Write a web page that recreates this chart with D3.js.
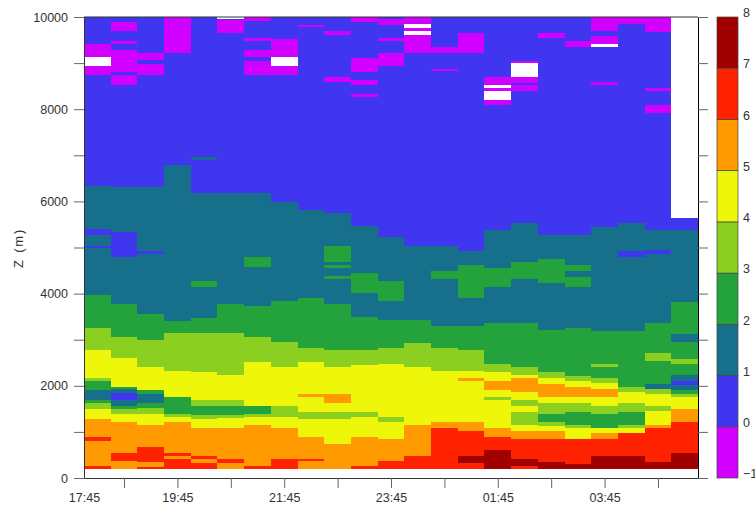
<!DOCTYPE html>
<html>
<head>
<meta charset="utf-8">
<script src="https://cdn.jsdelivr.net/npm/d3@7"></script>
<style>
  body { margin: 0; background: #fff; }
  text { font-family: "Liberation Sans", Arial, sans-serif; font-size: 12.5px; fill: #333; }
</style>
</head>
<body>
<div id="chart"></div>
<script>
// Colour classes (lower bound of each class, -1 .. 7)
const levels = [-1, 0, 1, 2, 3, 4, 5, 6, 7, 8];
const levelColors = ["#d200ff", "#4136f0", "#16708c", "#24a33c", "#8bd020", "#eef70a", "#ff9a00", "#ff2200", "#a00000"];

// X axis, hours from the start of the record (one column = half an hour)
const columnHours = 0.5;
const xTicks = [0, 0.75, 1.75, 2.75, 3.75, 4.75, 5.75, 6.75, 7.75, 8.75, 9.75, 10.75];
const xLabels = ["17:45", "", "19:45", "", "21:45", "", "23:45", "", "01:45", "", "03:45", ""];
const yTicks = [0, 1000, 2000, 3000, 4000, 5000, 6000, 7000, 8000, 9000, 10000];

// One profile per column, read from the top (10000 m) down: [class, lower edge in m]
const profiles = [
  [[0,6341],[1,3962],[2,3247],[3,2777],[4,2177],[3,2112],[2,1910],[1,1693],[2,1635],[3,1505],[4,1280],[5,897],[6,803],[5,261],[6,200]],
  [[0,6305],[1,3775],[2,3052],[3,2596],[4,1982],[2,1924],[1,1837],[0,1693],[1,1563],[2,1505],[3,1389],[4,1208],[5,550],[6,370],[5,200]],
  [[0,6305],[1,3550],[2,3000],[3,2401],[4,1910],[2,1815],[1,1635],[2,1512],[3,1389],[4,1150],[5,666],[6,355],[5,247],[6,200]],
  [[0,6790],[1,3413],[2,3138],[3,2329],[4,1750],[2,1389],[3,1317],[4,1208],[5,550],[6,485],[5,413],[6,200]],
  [[0,6175],[1,3478],[2,3138],[3,2293],[4,1693],[3,1570],[2,1367],[3,1280],[4,1085],[5,485],[6,413],[5,319],[6,200]],
  [[0,6175],[1,3775],[2,3138],[3,2235],[4,1693],[3,1570],[2,1367],[3,1295],[4,1085],[5,413],[6,319],[5,200]],
  [[0,6175],[1,3738],[2,3066],[3,2510],[4,1570],[2,1389],[3,1317],[4,1150],[5,261],[6,200]],
  [[0,5994],[1,3840],[2,2943],[3,2401],[4,1570],[3,1317],[4,1085],[5,413],[6,200]],
  [[0,5813],[1,3897],[2,2813],[3,2524],[4,1815],[5,1750],[4,1440],[3,1280],[4,897],[5,413],[6,362],[5,200]],
  [[0,5756],[1,3775],[2,2777],[3,2401],[4,1815],[5,1635],[4,1440],[3,1280],[4,738],[5,200]],
  [[0,5466],[1,3485],[2,2777],[3,2452],[4,1440],[3,1317],[4,897],[5,261],[6,200]],
  [[0,5220],[1,3428],[2,2814],[3,2473],[4,1317],[3,1215],[4,840],[5,362],[6,200]],
  [[0,5040],[1,3428],[2,2937],[3,2416],[4,1150],[5,485],[6,200]],
  [[0,5040],[1,3305],[2,2814],[3,2329],[4,1208],[5,1092],[6,200]],
  [[0,4932],[1,3305],[2,2778],[3,2329],[4,2177],[5,2112],[4,1208],[5,1027],[6,485],[7,319],[6,200]],
  [[0,5380],[1,3356],[2,2466],[3,2307],[4,2112],[5,1910],[4,1765],[3,1693],[4,1092],[5,897],[6,608],[7,200]],
  [[0,5525],[1,3356],[2,2401],[3,2235],[4,2177],[5,1873],[4,1693],[3,1570],[4,1440],[3,1150],[4,1027],[5,840],[6,406],[7,261],[6,200]],
  [[0,5272],[1,3211],[2,2293],[3,2177],[4,2040],[5,1765],[4,1620],[3,1389],[2,1208],[3,1136],[4,1027],[5,840],[6,355],[7,200]],
  [[0,5272],[1,3247],[2,2220],[3,2112],[4,1982],[5,1750],[4,1620],[3,1440],[2,1150],[3,1092],[4,840],[6,305],[7,200]],
  [[0,5438],[1,3197],[2,2163],[3,2054],[4,1924],[5,1750],[4,1563],[3,1389],[2,1092],[4,970],[5,840],[6,485],[7,200]],
  [[0,5525],[1,3197],[2,1982],[3,1873],[4,1620],[3,1440],[2,1150],[3,1092],[4,970],[6,485],[7,200]],
  [[0,5380],[1,3356],[2,2705],[3,2546],[2,2040],[1,1924],[3,1823],[4,1563],[3,1454],[4,1150],[5,1092],[6,355],[7,200]],
  [[null,5650],[0,5380],[1,3826],[2,3117],[1,2944],[2,2582],[3,2473],[2,2235],[1,2110],[0,2010],[1,1910],[2,1823],[3,1750],[4,1497],[5,1208],[6,550],[7,200]]
];

// Isolated patches on top of the profiles: [column, lower m, upper m, class] (null = no data)
const patches = [
  [0,9140,9415,-1],[0,8937,9125,null],[0,8750,8937,-1],[0,5271,5394,0],[0,4996,5040,0],
  [1,9704,9885,-1],[1,9422,9472,-1],[1,8800,9284,-1],[1,8525,8742,-1],[1,4787,5329,0],
  [2,9068,9226,-1],[2,8750,8981,-1],[2,4852,4931,0],
  [3,9226,10000,-1],
  [4,6900,6960,1],[4,4136,4273,2],
  [5,9964,10000,null],[5,9660,9935,-1],
  [6,9906,10000,-1],[6,9487,9545,-1],[6,9125,9284,-1],[6,8750,9053,-1],[6,4570,4787,2],
  [7,9125,9530,-1],[7,8937,9125,null],[7,8750,8937,-1],
  [8,9776,9834,-1],
  [9,9610,9704,-1],[9,8583,8692,-1],[9,4693,5033,2],[9,4563,4620,2],[9,4324,4375,2],
  [10,9899,10000,-1],[10,8815,9111,-1],[10,8518,8634,-1],[10,8272,8337,-1],[10,4020,4440,2],
  [11,9834,9964,-1],[11,9480,9537,-1],[11,8937,9212,-1],[11,3840,4274,2],
  [12,9841,10000,-1],[12,9762,9841,null],[12,9704,9762,-1],[12,9603,9704,null],[12,9226,9603,-1],
  [13,9212,9357,-1],[13,8822,8872,-1],[13,4317,4498,2],
  [14,9226,9660,-1],[14,3898,4621,2],
  [15,8525,8692,-1],[15,8453,8525,null],[15,8395,8453,-1],[15,8207,8395,null],[15,8099,8207,-1],[15,4151,4549,2],
  [16,9002,9053,-1],[16,8699,9002,null],[16,8569,8699,-1],[16,8395,8518,-1],[16,4310,4679,2],
  [17,9537,9660,-1],[17,4223,4744,2],
  [18,9357,9472,-1],[18,4498,4621,2],[18,4151,4368,2],
  [19,9697,10000,-1],[19,9415,9595,-1],[19,9350,9415,null],[19,8518,8583,-1],[19,2416,2466,3],
  [20,9841,10000,-1],[20,4795,4925,0],
  [21,9668,10000,-1],[21,8395,8460,-1],[21,7911,8099,-1],[21,4860,4946,0]
];

const width = 755;
const height = 506;
const plot = { left: 84, right: 698, top: 17, bottom: 478 };
const bar = { left: 717, right: 738 };

const svg = d3.select("#chart")
  .append("svg")
  .attr("width", width)
  .attr("height", height);

const xScale = d3.scaleLinear()
  .domain([0, profiles.length * columnHours])
  .range([plot.left, plot.right]);

const yScale = d3.scaleLinear()
  .domain([0, 10000])
  .range([plot.bottom, plot.top]);

const colorScale = d3.scaleThreshold()
  .domain(levels.slice(1, -1))
  .range(levelColors);

// Turn the profiles and patches into one list of cells
const cells = [];
profiles.forEach((profile, col) => {
  let upper = 10000;
  profile.forEach(([value, lower]) => {
    cells.push({ col, lower, upper, value });
    upper = lower;
  });
});
patches.forEach(([col, lower, upper, value]) => cells.push({ col, lower, upper, value }));

svg.append("g")
  .selectAll("rect")
  .data(cells)
  .join("rect")
  .attr("shape-rendering", "crispEdges")
  .attr("x", d => xScale(d.col * columnHours))
  .attr("width", d => xScale((d.col + 1) * columnHours) - xScale(d.col * columnHours))
  .attr("y", d => yScale(d.upper))
  .attr("height", d => yScale(d.lower) - yScale(d.upper))
  .attr("fill", d => d.value === null ? "#fff" : colorScale(d.value));

// Axes
const xAxis = svg.append("g")
  .attr("transform", `translate(0,${plot.bottom})`)
  .call(d3.axisBottom(xScale)
    .tickValues(xTicks)
    .tickFormat((d, i) => xLabels[i])
    .tickSize(10)
    .tickSizeOuter(0)
    .tickPadding(5));
xAxis.selectAll(".tick line").filter(d => d === 0).remove();

const yAxis = svg.append("g")
  .attr("transform", `translate(${plot.left},0)`)
  .call(d3.axisLeft(yScale)
    .tickValues(yTicks)
    .tickFormat(d => d % 2000 === 0 ? d : "")
    .tickSize(10)
    .tickSizeOuter(0)
    .tickPadding(6));

const yAxisRight = svg.append("g")
  .attr("transform", `translate(${plot.right},0)`)
  .call(d3.axisRight(yScale)
    .tickValues(yTicks)
    .tickFormat("")
    .tickSize(10)
    .tickSizeOuter(0));

[xAxis, yAxis, yAxisRight].forEach(axis => {
  axis.selectAll("path").attr("stroke", "#333");
  axis.selectAll("line").attr("stroke", "#666");
  axis.selectAll("text").attr("font-size", null).attr("font-family", null);
});
yAxisRight.select("path").attr("stroke", "#000");

svg.append("line")
  .attr("x1", plot.left).attr("x2", plot.right)
  .attr("y1", plot.top).attr("y2", plot.top)
  .attr("stroke", "#333");

svg.append("text")
  .attr("transform", `translate(23,248) rotate(-90)`)
  .attr("text-anchor", "middle")
  .style("font-size", "13px")
  .style("letter-spacing", "1.8px")
  .text("Z (m)");

// Colour bar
const barScale = d3.scaleLinear()
  .domain([levels[0], levels[levels.length - 1]])
  .range([plot.bottom, plot.top]);

svg.append("g")
  .selectAll("rect")
  .data(levels.slice(0, -1))
  .join("rect")
  .attr("x", bar.left)
  .attr("width", bar.right - bar.left)
  .attr("y", d => barScale(d + 1))
  .attr("height", d => barScale(d) - barScale(d + 1))
  .attr("fill", d => colorScale(d))
  .attr("stroke", "#444")
  .attr("stroke-width", 0.7);

svg.append("g")
  .selectAll("text")
  .data(levels)
  .join("text")
  .attr("x", bar.right + 5)
  .attr("y", d => barScale(d))
  .attr("dy", "0.02em")
  .text(d => d < 0 ? "\u2212" + Math.abs(d) : d);
</script>
</body>
</html>
